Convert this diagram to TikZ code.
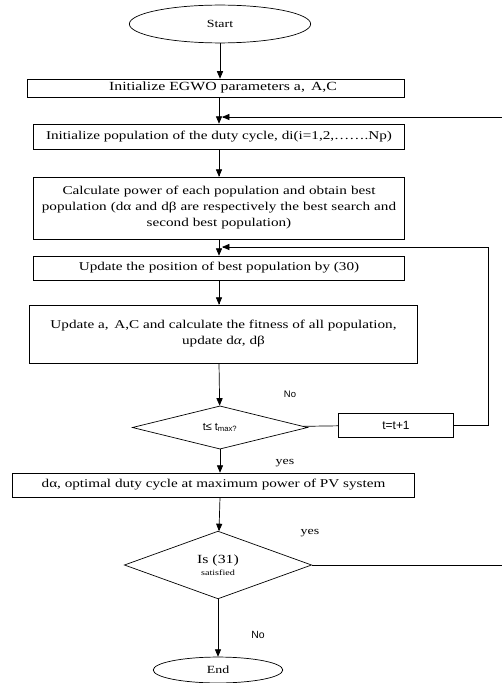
\documentclass[tikz,border=0pt]{standalone}
\usepackage{fontspec}
\setmainfont{Liberation Serif}[FakeStretch=1.27]
\newfontfamily\arialfont{Liberation Sans}
\usepackage{tikz}
\usetikzlibrary{shapes, shapes.geometric, arrows, math}

\begin{document}
\begin{tikzpicture}[x=1bp, y=-1bp, >=triangle 45, line width=0.7bp,
  box/.style={draw, rectangle, inner sep=0pt, align=center, font=\fontsize{12}{16}\selectfont},
  term/.style={draw, ellipse, inner sep=0pt, font=\fontsize{11}{13}\selectfont},
  ask/.style={draw, diamond, inner sep=0pt, align=center, font=\fontsize{12.5}{13}\selectfont},
  lab/.style={inner sep=0pt, font=\fontsize{11}{12}\selectfont}]

\tikzmath{
			\xm = 219; \xr = 488; \xo = 506;
         }

\useasboundingbox (0,0) rectangle (502,683);

\node[term, minimum width=182, minimum height=38] (start) at (220,24) {Start};
\node[box, minimum width=378, minimum height=18, font=\fontsize{12.5}{16}\selectfont] (init) at (216,88) {\hspace*{14bp}Initialize EGWO parameters a,\, A,C};
\node[box, minimum width=372, minimum height=25] (popu) at (\xm,136.5) {Initialize population of the duty cycle, di(i=1,2,\dots\dots.Np)};
\node[box, minimum width=372, minimum height=62, text width=360] (calc) at (\xm,208)
  {Calculate power of each population and obtain best\\ population (dα and dβ are respectively the best search and\\ second best population)};
\node[box, minimum width=372, minimum height=24] (upd) at (\xm,268) {Update the position of best population by (30)};
\node[box, minimum width=389, minimum height=58] (fit) at (223.5,334)
  {Update a,\, A,C and calculate the fitness of all population,\\ update d\textit{α}, dβ};
\node[ask, minimum width=176, minimum height=43, font=\arialfont\fontsize{11}{12}\selectfont] (dec1) at (220,427.5) {t≤ t\textsubscript{max?}};
\node[box, minimum width=116, minimum height=24, font=\arialfont\fontsize{12}{14}\selectfont] (tinc) at (396,425) {t=t+1};
\node[box, minimum width=403, minimum height=24] (opt) at (213.5,485) {dα, optimal duty cycle at maximum power of PV system};
\node[ask, minimum width=188, minimum height=68] (dec2) at (218,565) {Is (31)\\[-1pt]{\fontsize{8}{9}\selectfont satisfied}};
\node[term, minimum width=130, minimum height=26] (end) at (218,670) {End};

\node[lab, font=\arialfont\fontsize{9.5}{11}\selectfont] (no1) at (290,394) {No};
\node[lab] (yes1) at (285,463) {yes};
\node[lab] (yes2) at (310,533) {yes};
\node[lab, font=\arialfont\fontsize{10.5}{12}\selectfont] (no2) at (258,635) {No};

\coordinate (j1) at (\xm+3,247);
\coordinate (j2) at (\xm+3,117);

\draw[->] (start) -- (start |- init.north);
\draw[->] (init.south -| \xm,0) -- (popu);
\draw[->] (popu) -- (calc);
\draw[->] (calc) -- (upd);
\draw[->] (upd.south) -- (upd.south |- fit.north);
\draw[->] (upd.south |- fit.south) -- (dec1);
\draw (dec1) -- (tinc);
\draw[->] (tinc) -| (\xr,247) -- (j1);
\draw[->] (dec1) -- (dec1 |- opt.north);
\draw[->] (dec1 |- opt.south) -- (dec2);
\draw[->] (dec2) -| (\xo,117) -- (j2);
\draw[->] (dec2) -- (end);

\end{tikzpicture}
\end{document}
